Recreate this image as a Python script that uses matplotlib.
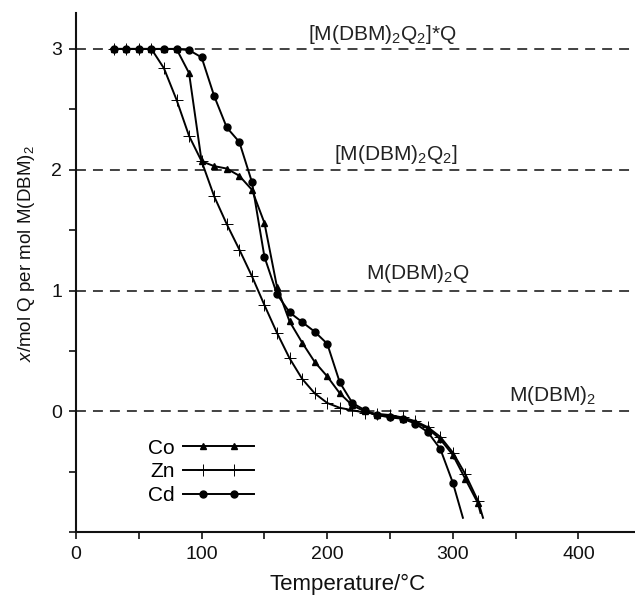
import matplotlib
matplotlib.use("Agg")
import matplotlib.pyplot as plt
from matplotlib.legend_handler import HandlerLine2D

plt.rcParams["font.family"] = ["Liberation Sans", "DejaVu Sans"]
plt.rcParams["mathtext.fontset"] = "custom"
plt.rcParams["mathtext.rm"] = "Liberation Sans"
plt.rcParams["mathtext.it"] = "Liberation Sans:italic"

# ---- data ----
co_t = [30, 40, 50, 60, 70, 80, 90, 100, 110, 120, 130, 140, 150, 160, 170, 180,
        190, 200, 210, 220, 230, 240, 250, 260, 270, 280, 290, 300, 310, 320]
co_x = [3.0, 3.0, 3.0, 3.0, 3.0, 3.0, 2.80, 2.07, 2.03, 2.01, 1.95, 1.835, 1.56, 1.03,
        0.745, 0.57, 0.41, 0.29, 0.15, 0.05, 0.0, -0.03, -0.04, -0.06, -0.09, -0.14,
        -0.23, -0.36, -0.56, -0.76]
co_end = (322, -0.84)

zn_t = [30, 40, 50, 60, 70, 80, 90, 100, 110, 120, 130, 140, 150, 160, 170, 180,
        190, 200, 210, 220, 230, 240, 250, 260, 270, 280, 290, 300, 310, 320]
zn_x = [3.0, 3.0, 3.0, 3.0, 2.84, 2.58, 2.28, 2.07, 1.78, 1.55, 1.34, 1.12, 0.88, 0.65,
        0.44, 0.27, 0.15, 0.07, 0.03, 0.01, -0.01, -0.02, -0.03, -0.05, -0.08, -0.13,
        -0.21, -0.34, -0.52, -0.74]
zn_end = (324, -0.88)

cd_t = [30, 40, 50, 60, 70, 80, 90, 100, 110, 120, 130, 140, 150, 160, 170, 180,
        190, 200, 210, 220, 230, 240, 250, 260, 270, 280, 290, 300]
cd_x = [3.0, 3.0, 3.0, 3.0, 3.0, 3.0, 2.99, 2.93, 2.61, 2.35, 2.23, 1.90, 1.28, 0.97,
        0.82, 0.74, 0.66, 0.56, 0.24, 0.07, 0.01, -0.03, -0.05, -0.06, -0.10, -0.17,
        -0.31, -0.59]
cd_end = (308, -0.88)

levels = [0, 1, 2, 3]
level_labels = [r"M(DBM)$_2$", r"M(DBM)$_2$Q", r"[M(DBM)$_2$Q$_2$]", r"[M(DBM)$_2$Q$_2$]*Q"]
label_pos = [(379.5, 0.083), (272, 1.097), (254.6, 2.08), (244, 3.07)]


class FullLineHandler(HandlerLine2D):
    # two markers inset from the ends, line runs the full handle length
    def create_artists(self, legend, orig_handle, xdescent, ydescent, width,
                       height, fontsize, trans):
        arts = super().create_artists(legend, orig_handle, xdescent, ydescent,
                                      width, height, fontsize, trans)
        ln = arts[0]
        xd = list(ln.get_xdata())
        y0 = ln.get_ydata()[0]
        ln.set_data([-xdescent, xd[0], xd[-1], width - xdescent], [y0] * 4)
        ln.set_markevery([1, 2])
        return arts


fig = plt.figure(figsize=(6.35, 5.95), dpi=100)
ax = fig.add_axes([0.1197, 0.1054, 0.8803, 0.8733])

for lv in levels:
    ax.axhline(lv, color="#333333", lw=1.3, dashes=(5.5, 3.9), zorder=1)
for txt, (tx, ty) in zip(level_labels, label_pos):
    ax.text(tx, ty, txt, ha="center", va="baseline", fontsize=15, color="#222222")

k = dict(color="black", lw=1.4, zorder=3)
ln_co, = ax.plot(co_t, co_x, marker="^", ms=5, **k)
ax.plot([co_t[-1], co_end[0]], [co_x[-1], co_end[1]], **k)
ln_zn, = ax.plot(zn_t, zn_x, marker="+", ms=8, mew=0.7, **k)
ax.plot([zn_t[-1], zn_end[0]], [zn_x[-1], zn_end[1]], **k)
ln_cd, = ax.plot(cd_t, cd_x, marker="o", ms=5, **k)
ax.plot([cd_t[-1], cd_end[0]], [cd_x[-1], cd_end[1]], **k)

leg = ax.legend([ln_co, ln_zn, ln_cd], ["Co", "Zn", "Cd"],
                handler_map={plt.Line2D: FullLineHandler(marker_pad=0.95, numpoints=2)},
                loc="center", bbox_to_anchor=(99.5, -0.5), bbox_transform=ax.transData,
                frameon=False, fontsize=15, markerfirst=False, handlelength=3.4,
                handletextpad=0.42, labelspacing=0.22, borderpad=0, borderaxespad=0)

ax.set_xlim(0, 445)
ax.set_ylim(-1, 3.3)
ax.spines["top"].set_visible(False)
ax.spines["right"].set_visible(False)
for s in ("left", "bottom"):
    ax.spines[s].set_linewidth(1.5)
    ax.spines[s].set_color("#111111")

ax.set_xticks([0, 50, 100, 150, 200, 250, 300, 350, 400])
ax.set_xticklabels(["0", "", "100", "", "200", "", "300", "", "400"])
ax.set_yticks([-1, -0.5, 0, 0.5, 1, 1.5, 2, 2.5, 3])
ax.set_yticklabels(["", "", "0", "", "1", "", "2", "", "3"])
ax.tick_params(direction="out", length=5, width=1.2, labelsize=14,
               colors="#111111", pad=5)

ax.set_xlabel("Temperature/°C", fontsize=16, color="#111111")
ax.set_ylabel(r"$x$/mol Q per mol M(DBM)$_2$", fontsize=13.5, color="#111111")
ax.xaxis.set_label_coords(0.485, -0.0995)
ax.yaxis.set_label_coords(-0.0877, 0.536)
ax.xaxis.label.set_va("center")
ax.yaxis.label.set_va("center")

fig.savefig("out.png", dpi=100)
